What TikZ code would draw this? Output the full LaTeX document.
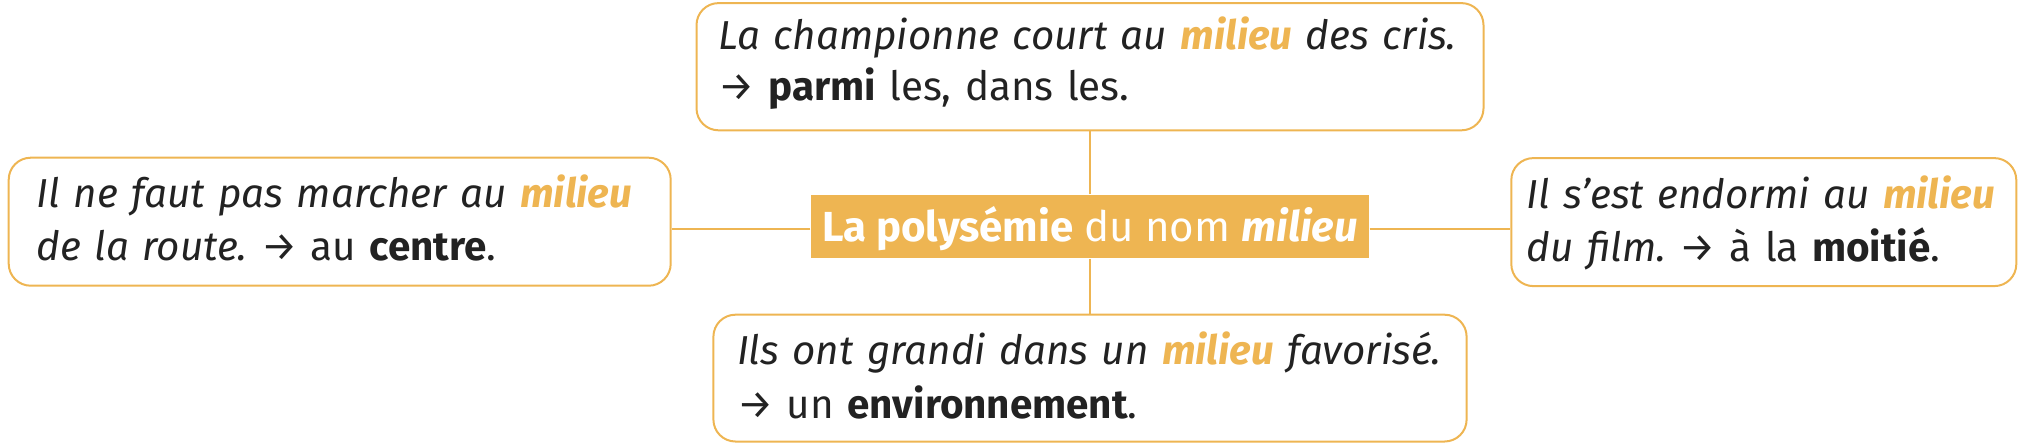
\documentclass[tikz,border=0pt]{standalone}
\usepackage{fontspec}
\setmainfont{Fira Sans}
\frenchspacing
\hyphenpenalty=10000
\usepackage{xcolor}
\definecolor{mainOrange}{HTML}{EEB552}
\definecolor{darkText}{HTML}{222222}
\usepackage{tikz}
\usetikzlibrary{positioning}
\tikzset{example/.style = {draw = mainOrange, line width = 1pt, rounded corners = 11pt, text = darkText, inner ysep = 0pt, text height = 25pt, text depth = 39pt, align = left, font = \fontsize{20.2}{26.5}\selectfont}}
\tikzset{title/.style = {fill = mainOrange, text = white, inner sep = 0pt, minimum width = 279.3pt, text height = 23.5pt, text depth = 8.3pt, font = \fontsize{21}{26.5}\selectfont}}
\tikzset{link/.style = {draw = mainOrange, line width = 0.8pt}}
\newcommand{\mil}{\textcolor{mainOrange}{\textbf{milieu}}}

\begin{document}
\begin{tikzpicture}
	\useasboundingbox (0, 0) rectangle (1021.5pt, -223pt);

	%% Centre
	\node[title] (centre) at (545pt, -113.25pt) {\textbf{La polysémie} du nom \textbf{\textit{milieu}}};
	\coordinate (cw) at ([yshift = -1.25pt]centre.west);
	\coordinate (ce) at ([yshift = -1.25pt]centre.east);

	%% Examples
	\node[example, above = 31.5pt of centre, inner xsep = 11pt, text width = 371.5pt, text height = 23.4pt, text depth = 40.2pt, font = \fontsize{20.2}{25.3}\selectfont] (cris) {\textit{La championne court au \mil{} des cris.}\\→ \textbf{parmi} les, dans les.};
	\node[example, below = 27.5pt of centre, inner xsep = 11.8pt, text width = 353pt, text depth = 38.4pt, font = \fontsize{20.2}{27}\selectfont] (env) {\textit{Ils ont grandi dans un \mil{} favorisé.}\\→ un \textbf{environnement}.};
	\node[example, left = 69.3pt of centre, yshift = 2.4pt, inner xsep = 14pt, text width = 303pt] (route) {\textit{Il ne faut pas marcher au \mil}\\\textit{de la route.} → au \textbf{centre}.};
	\node[example, right = 70.3pt of centre, yshift = 2.2pt, inner xsep = 7.75pt, text width = 237pt] (film) {\textit{Il s’est endormi au \mil}\\\textit{du film.} → à la \textbf{moitié}.};

	%% Links
	\draw[link] (centre.north) -- (cris.south -| centre.north);
	\draw[link] (centre.south) -- (env.north -| centre.south);
	\draw[link] (cw) -- (route.east |- cw);
	\draw[link] (ce) -- (film.west |- ce);

\end{tikzpicture}
\end{document}
